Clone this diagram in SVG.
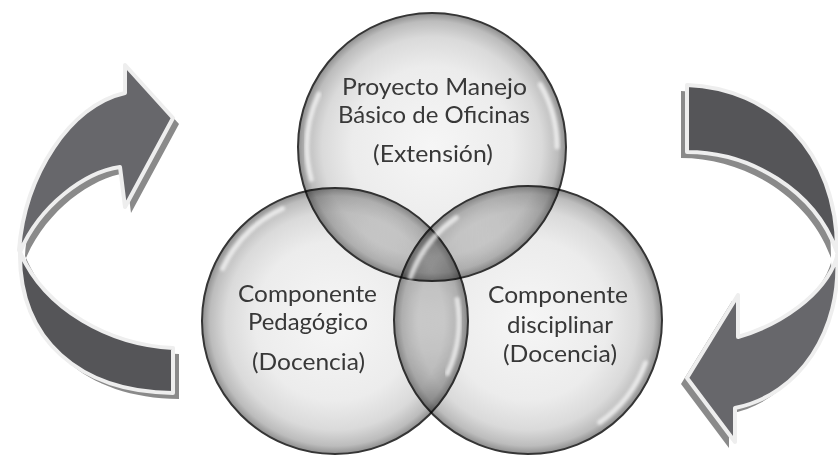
<svg xmlns="http://www.w3.org/2000/svg" width="838" height="459" viewBox="0 0 838 459">
<defs>
<radialGradient id="ball" cx="50%" cy="50%" r="50%">
<stop offset="0" stop-color="#f6f6f6"/>
<stop offset="0.6" stop-color="#ececec"/>
<stop offset="0.82" stop-color="#dadada"/>
<stop offset="0.94" stop-color="#bcbcbc"/>
<stop offset="1" stop-color="#8e8e8e"/>
</radialGradient>
<filter id="soft" x="-20%" y="-20%" width="140%" height="140%"><feGaussianBlur stdDeviation="1.8"/></filter>
<style>
.ball{fill:url(#ball);stroke:#353535;stroke-width:2;mix-blend-mode:multiply}
.hl{fill:none;stroke:#ffffff;stroke-width:5;stroke-linecap:round;opacity:0.65;filter:url(#soft)}
.lbl{font-family:Lato,"Open Sans","Liberation Sans",sans-serif;font-size:24px;fill:#383838;text-anchor:middle}
.sh{fill:#8a8a8a}
.arm{stroke:#eeeeee;stroke-width:4;stroke-linejoin:round}
.light{fill:#67676b}
.dark{fill:#555558}
</style>
</defs>
<rect width="838" height="459" fill="#ffffff"/>
<g id="connectors">
<g id="arrow-left">
<g transform="translate(6,6)" class="sh">
<path d="M19,250 C25,175 70,105 125,93 L125,65 L173,118 L125,207 L120,167 C85,172 40,205 20,252 Z"/>
<path d="M20,250 C18,340 80,392 173,393 L173,348 C110,345 45,310 20,252 Z"/>
</g>
<path class="arm dark" d="M20,250 C18,340 80,392 173,393 L173,348 C110,345 45,310 20,252 Z"/>
<path class="arm light" d="M19,250 C25,175 70,105 125,93 L125,65 L173,118 L125,207 L120,167 C85,172 40,205 20,252 Z"/>
</g>
<g id="arrow-right">
<g transform="translate(-6,6)" class="sh">
<path d="M687,85 C770,88 838,150 837,252 C815,190 750,152 687,152 Z"/>
<path d="M837,255 C842,330 800,395 735,408 L735,442 L687,378 L738,295 L738,337 C780,325 825,295 837,257 Z"/>
</g>
<path class="arm dark" d="M687,85 C770,88 838,150 837,252 C815,190 750,152 687,152 Z"/>
<path class="arm light" d="M837,255 C842,330 800,395 735,408 L735,442 L687,378 L738,295 L738,337 C780,325 825,295 837,257 Z"/>
</g>
</g>
<g id="circles">
<circle id="circle-top" class="ball" cx="432" cy="147" r="134"/>
<circle id="circle-left" class="ball" cx="335" cy="321" r="133"/>
<circle id="circle-right" class="ball" cx="528" cy="320" r="134"/>
</g>
<g id="highlights">
<path class="hl" d="M311.3,179.4 A125,125 0 0 1 318.7,94.2"/>
<path class="hl" d="M540.3,84.5 A125,125 0 0 1 557,147"/>
<path class="hl" d="M222.6,268.6 A124,124 0 0 1 282.6,208.6"/>
<path class="hl" d="M457.1,299.5 A124,124 0 0 1 447.4,373.4"/>
<path class="hl" d="M410.5,277.3 A125,125 0 0 1 456.3,217.6"/>
<path class="hl" d="M645.5,362.75 A125,125 0 0 1 599.7,422.4"/>
</g>
<g id="node-extension">
<text class="lbl" x="434.5" y="95" textLength="185" lengthAdjust="spacingAndGlyphs">Proyecto Manejo</text>
<text class="lbl" x="434" y="123" textLength="192" lengthAdjust="spacingAndGlyphs">Básico de Oficinas</text>
<text class="lbl" x="433" y="162" textLength="120" lengthAdjust="spacingAndGlyphs">(Extensión)</text>
</g>
<g id="node-pedagogico">
<text class="lbl" x="307.5" y="302" textLength="139" lengthAdjust="spacingAndGlyphs">Componente</text>
<text class="lbl" x="308" y="330" textLength="120" lengthAdjust="spacingAndGlyphs">Pedagógico</text>
<text class="lbl" x="308.5" y="370" textLength="113" lengthAdjust="spacingAndGlyphs">(Docencia)</text>
</g>
<g id="node-disciplinar">
<text class="lbl" x="558" y="303" textLength="140" lengthAdjust="spacingAndGlyphs">Componente</text>
<text class="lbl" x="560" y="333" textLength="106" lengthAdjust="spacingAndGlyphs">disciplinar</text>
<text class="lbl" x="560" y="362" textLength="114" lengthAdjust="spacingAndGlyphs">(Docencia)</text>
</g>
</svg>
